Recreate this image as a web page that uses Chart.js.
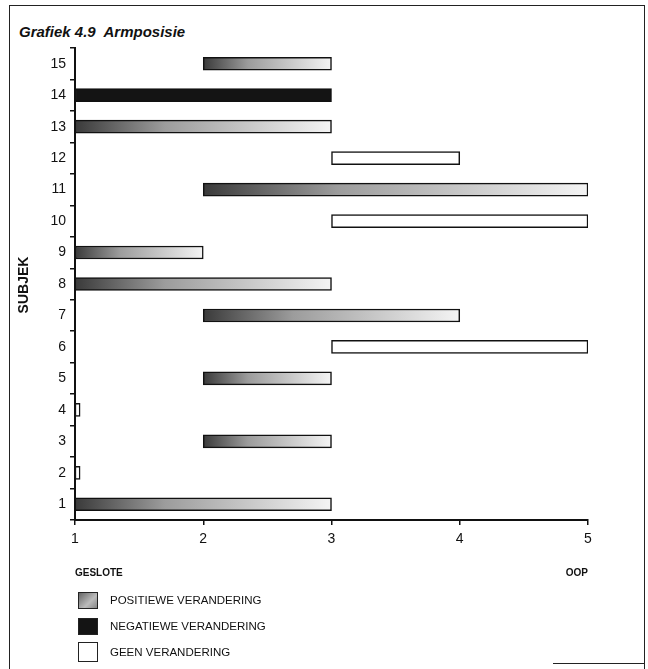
<!DOCTYPE html>
<html>
<head>
<meta charset="utf-8">
<script src="https://cdn.jsdelivr.net/npm/chart.js@4.4.0/dist/chart.umd.min.js"></script>
<style>
  body { margin: 0; background: #fff; font-family: "Liberation Sans", Arial, sans-serif; }
  #page { position: relative; width: 648px; height: 669px; overflow: hidden; }
  #frame { position: absolute; left: 9px; top: 5px; width: 634px; height: 680px;
           border-left: 1px solid #222; border-top: 1px solid #222; border-right: 1px solid #222; }
  #frameBottom { position: absolute; left: 553px; top: 663px; width: 92px; border-top: 1px solid #222; }
  #title { position: absolute; left: 19px; top: 23px; font-size: 15px; font-weight: bold; font-style: italic; color: #111; white-space: pre; }
  #chartBox { position: absolute; left: 0; top: 0; width: 648px; height: 590px; }
  #legend { position: absolute; left: 78px; top: 587px; }
  .item { display: flex; align-items: center; height: 26px; }
  .sw { width: 20px; height: 17px; box-sizing: border-box; border: 1px solid #222; margin-right: 12px; }
  .item span { font-size: 11.5px; color: #111; }
</style>
</head>
<body>
<div id="page">
  <div id="frame"></div>
  <div id="frameBottom"></div>
  <div id="title">Grafiek 4.9  Armposisie</div>
  <div id="chartBox"><canvas id="chart"></canvas></div>
  <div id="legend"></div>
</div>
<script>
// subjects 1..15, bar from start to end on the 1 (geslote) .. 5 (oop) scale
const subjects = ['1','2','3','4','5','6','7','8','9','10','11','12','13','14','15'];
const startPos = [1, 1, 2, 1, 2, 3, 2, 1, 1, 3, 2, 3, 1, 1, 2];
const endPos   = [3, 1.04, 3, 1.04, 3, 5, 4, 3, 2, 5, 5, 4, 3, 3, 3];
const change   = ['pos','geen','pos','geen','pos','geen','pos','pos','pos','geen','pos','geen','pos','neg','pos'];
const xTicks = [1, 2, 3, 4, 5];
const seriesNames = { pos: 'POSITIEWE VERANDERING', neg: 'NEGATIEWE VERANDERING', geen: 'GEEN VERANDERING' };

function fillFor(type) {
  return function (ctx) {
    const chart = ctx.chart;
    if (type === 'neg') return '#141414';
    if (type === 'geen') return '#ffffff';
    if (!chart.chartArea || ctx.dataIndex == null) return '#999';
    const i = ctx.dataIndex;
    const x0 = chart.scales.x.getPixelForValue(startPos[i]);
    const x1 = chart.scales.x.getPixelForValue(endPos[i]);
    const g = chart.ctx.createLinearGradient(x0, 0, x1, 0);
    g.addColorStop(0, '#3a3a3a');
    g.addColorStop(0.35, '#9c9c9c');
    g.addColorStop(1, '#f4f4f4');
    return g;
  };
}

const datasets = ['pos', 'neg', 'geen'].map(type => ({
  label: seriesNames[type],
  data: subjects.map((s, i) => change[i] === type ? [startPos[i], endPos[i]] : null),
  backgroundColor: fillFor(type),
  borderColor: '#111',
  borderWidth: 1.5,
  borderSkipped: false,
  barThickness: 13,
  grouped: false
}));

const extraText = {
  id: 'extraText',
  afterDraw(chart) {
    const c = chart.ctx, x = chart.scales.x;
    c.save();
    c.fillStyle = '#111';
    c.font = 'bold 10px "Liberation Sans", Arial, sans-serif';
    c.textBaseline = 'middle';
    c.textAlign = 'left';
    c.fillText('GESLOTE', x.getPixelForValue(1), 573);
    c.textAlign = 'right';
    c.fillText('OOP', x.getPixelForValue(5), 573);
    c.translate(24, 285);
    c.rotate(-Math.PI / 2);
    c.textAlign = 'center';
    c.font = 'bold 14px "Liberation Sans", Arial, sans-serif';
    c.fillText('SUBJEK', 0, 0);
    c.restore();
  }
};

new Chart(document.getElementById('chart'), {
  type: 'bar',
  data: { labels: subjects, datasets: datasets },
  options: {
    indexAxis: 'y',
    responsive: true,
    maintainAspectRatio: false,
    animation: false,
    layout: { padding: { top: 48, right: 60, left: 0, bottom: 0 } },
    plugins: { legend: { display: false }, tooltip: { enabled: false } },
    scales: {
      x: {
        type: 'linear', min: 1, max: 5,
        afterFit: s => { s.height = 70; },
        afterBuildTicks: s => { s.ticks = xTicks.map(v => ({ value: v })); },
        grid: { drawOnChartArea: false, drawTicks: true, tickLength: 5, color: '#111', lineWidth: 1.5 },
        border: { display: true, color: '#111', width: 2 },
        ticks: { color: '#111', padding: 6, font: { size: 14, family: '"Liberation Sans", Arial, sans-serif' } }
      },
      y: {
        reverse: true,
        afterFit: s => { s.width = 75; },
        grid: { drawOnChartArea: false, drawTicks: true, tickLength: 5, color: '#111', lineWidth: 1.5 },
        border: { display: true, color: '#111', width: 2 },
        ticks: { color: '#111', padding: 4, font: { size: 14, family: '"Liberation Sans", Arial, sans-serif' } }
      }
    }
  },
  plugins: [extraText]
});

// legend
const swatch = {
  pos: 'background: linear-gradient(135deg, #666, #bbb 60%, #888);',
  neg: 'background: #141414;',
  geen: 'background: #fff; height: 20px;'
};
const legend = document.getElementById('legend');
['pos', 'neg', 'geen'].forEach(type => {
  const d = document.createElement('div');
  d.className = 'item';
  d.innerHTML = '<div class="sw" style="' + swatch[type] + '"></div><span>' + seriesNames[type] + '</span>';
  legend.appendChild(d);
});
</script>
</body>
</html>
